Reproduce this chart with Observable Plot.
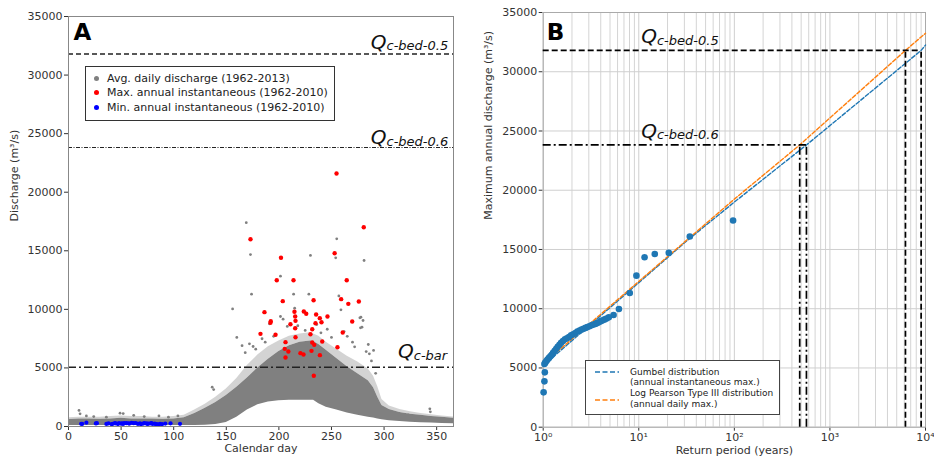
<!DOCTYPE html>
<html><head><meta charset="utf-8">
<script src="https://cdn.jsdelivr.net/npm/d3@7"></script>
<script src="https://cdn.jsdelivr.net/npm/@observablehq/plot@0.6"></script>
<style>
body{margin:0;background:#fff;font-family:"DejaVu Sans",sans-serif;}
#wrap{position:relative;width:934px;height:464px;overflow:hidden;background:#fff;}
.panel{position:absolute;top:0;}
.legend{position:absolute;border:1px solid #333;background:#fff;box-sizing:border-box;color:#222;}
.legend .row{position:absolute;white-space:nowrap;}
</style></head><body><div id="wrap"></div>
<script>
// ---------- shared ----------
const yTicks = [0, 5000, 10000, 15000, 20000, 25000, 30000, 35000];
const qNames = ["c-bed-0.5", "c-bed-0.6", "c-bar"];
const qValues = [31800, 23820, 5060];

// ---------- panel A ----------
const xTicksA = [0, 50, 100, 150, 200, 250, 300, 350];
// dense cloud of average daily discharge: envelope
const cloudDay   = [0, 10, 20, 30, 40, 50, 60, 70, 80, 90, 100, 110, 120, 130, 140, 150, 160, 170, 180, 190, 200, 210, 220, 230, 233, 238, 245, 255, 265, 275, 285, 290, 294, 298, 305, 315, 325, 335, 345, 355, 366];
const cloudLow   = [80, 80, 80, 80, 80, 80, 80, 80, 80, 80, 80, 80, 90, 110, 170, 350, 800, 1400, 1850, 2100, 2200, 2250, 2250, 2250, 2250, 1950, 1650, 1400, 1150, 950, 800, 720, 650, 580, 500, 420, 370, 330, 290, 260, 240];
const cloudHigh  = [600, 650, 650, 620, 650, 700, 650, 650, 650, 620, 650, 750, 1100, 1550, 2050, 2650, 3350, 4150, 5000, 5750, 6400, 6900, 7200, 7300, 7250, 7000, 6500, 5800, 5100, 4500, 3900, 3300, 2500, 1800, 1450, 1200, 1050, 950, 850, 780, 700];
const cloudFringe = [750, 800, 800, 800, 850, 900, 850, 850, 800, 800, 850, 950, 1400, 1900, 2500, 3200, 4100, 5200, 6100, 6800, 7300, 7700, 7900, 8000, 7900, 7700, 7200, 6600, 6000, 5500, 4900, 4300, 3400, 2300, 1750, 1450, 1250, 1100, 1000, 900, 820];
// scattered average daily discharge points
const greyDay = [10, 11, 17, 24, 36, 49, 52, 62, 72, 86, 95, 104, 136.6, 138, 169, 173, 174, 156, 201.5, 230, 255, 254, 281, 214, 228.5, 257, 215, 259, 277, 280, 201.5, 204, 208, 191, 277.6, 172, 175.5, 184, 278, 279, 290, 292, 343.5, 344, 323, 160, 165, 168, 265, 270, 285, 288, 286, 240, 225, 218, 195, 250, 178, 187, 262, 272, 283, 246, 236];
const greyQ   = [1370, 1080, 900, 850, 800, 1140, 1100, 950, 850, 900, 800, 900, 3360, 3150, 17400, 14680, 11300, 10040, 12830, 14600, 16020, 14400, 14170, 11300, 11300, 11150, 10100, 9960, 9280, 9050, 9390, 9160, 8540, 8770, 8420, 7060, 6830, 7490, 9330, 8480, 6490, 4540, 1510, 1250, 1000, 7600, 6900, 6300, 7700, 7200, 7000, 5600, 6200, 8000, 8200, 8600, 7700, 7600, 6600, 7200, 8100, 6800, 6400, 8300, 8700];
// max annual instantaneous
const redDay = [173, 254.8, 280.7, 253, 202, 198, 213.9, 264.5, 203.7, 233, 259.2, 266, 276, 186.3, 214.8, 223.7, 226, 215.5, 235.4, 246.2, 192.3, 192, 215.8, 238.9, 240.5, 269.7, 211, 234.8, 215.5, 231.7, 260.7, 182.5, 196.8, 215.8, 230, 241.2, 206.3, 231.7, 233.6, 205.6, 209, 220.5, 223.4, 231, 239, 206.3, 255.7, 233.2];
const redQ   = [15990, 21600, 17010, 14790, 14400, 12490, 12490, 12490, 10700, 10780, 10870, 10470, 10670, 9760, 9790, 9820, 9620, 9390, 9560, 9390, 8990, 8850, 9020, 9250, 8900, 8960, 8730, 8820, 8390, 8300, 8020, 7910, 7830, 7620, 7880, 7260, 7200, 7170, 6970, 6630, 6400, 6260, 6150, 6460, 6090, 5890, 6770, 4330];
// min annual instantaneous
const blueDay = [12, 13, 17, 26, 27, 36, 38, 41, 42, 44, 45, 47, 48, 50, 51, 52, 53, 55, 57, 58, 60, 62, 64, 66, 68, 69, 71, 72, 74, 75, 76, 78, 79, 80, 82, 83, 84, 86, 87, 89, 92, 97, 106];
const blueQ   = [230, 220, 330, 260, 280, 220, 260, 200, 230, 280, 260, 210, 290, 240, 270, 220, 300, 280, 270, 250, 320, 280, 300, 220, 260, 200, 250, 280, 260, 220, 240, 260, 300, 220, 240, 190, 210, 170, 230, 200, 250, 270, 230];
const legendALabels = ["Avg. daily discharge (1962-2013)", "Max. annual instantaneous (1962-2010)", "Min. annual instantaneous (1962-2010)"];
const legendAColors = ["#808080", "#ff0000", "#0000ff"];

// ---------- panel B ----------
const tMajor = [1, 10, 100, 1000, 10000];
const tMajorLabels = ["10\u2070", "10\u00b9", "10\u00b2", "10\u00b3", "10\u2074"];
const tMinor = [2, 3, 4, 5, 6, 7, 8, 9, 20, 30, 40, 50, 60, 70, 80, 90, 200, 300, 400, 500, 600, 700, 800, 900, 2000, 3000, 4000, 5000, 6000, 7000, 8000, 9000];
const obsT = [97, 34.2, 20.6, 14.7, 11.5, 9.45, 8.05, 6.2, 5.45, 4.86, 4.6, 4.4, 4.2, 4.0, 3.82, 3.64, 3.5, 3.35, 3.2, 3.05, 2.9, 2.77, 2.64, 2.52, 2.4, 2.28, 2.17, 2.06, 1.96, 1.86, 1.77, 1.69, 1.61, 1.54, 1.48, 1.42, 1.37, 1.32, 1.27, 1.23, 1.19, 1.15, 1.11, 1.08, 1.05, 1.03, 1.04, 1.03, 1.01];
const obsQ = [17440, 16090, 14710, 14620, 14340, 12790, 11330, 9980, 9470, 9270, 9180, 9100, 9020, 8950, 8850, 8770, 8710, 8660, 8600, 8520, 8450, 8380, 8300, 8240, 8150, 8070, 7950, 7850, 7750, 7600, 7500, 7420, 7280, 7120, 6950, 6780, 6620, 6450, 6280, 6120, 5980, 5850, 5720, 5580, 5450, 5330, 4630, 3870, 2940];
const gumbelT = [1, 10, 32, 100, 568, 9000, 10000];
const gumbelQ = [5200, 12200, 15750, 19000, 23820, 31800, 32250];
const lp3T = [1, 10, 100, 483, 6170, 10000];
const lp3Q = [5350, 12300, 19250, 23820, 31800, 33250];
// return periods where each fit reaches the critical discharges (Qc-bed-0.5, Qc-bed-0.6)
const critQ = [31800, 23820];
const critGumbelT = [9000, 568];
const critLp3T = [6170, 483];
const legendBLabels = [["Gumbel distribution", "(annual instantaneous max.)"], ["Log Pearson Type III distribution", "(annual daily max.)"]];
const legendBColors = ["#1f77b4", "#ff7f0e"];

// ---------- build tables ----------
const cloud = cloudDay.map((d, i) => ({day: d, low: cloudLow[i], high: cloudHigh[i], fringe: cloudFringe[i]}));
const grey = greyDay.map((d, i) => ({day: d, q: greyQ[i]}));
const red = redDay.map((d, i) => ({day: d, q: redQ[i]}));
const blue = blueDay.map((d, i) => ({day: d, q: blueQ[i]}));
const obs = obsT.map((t, i) => ({t, q: obsQ[i]}));
const gumbel = gumbelT.map((t, i) => ({t, q: gumbelQ[i]}));
const lp3 = lp3T.map((t, i) => ({t, q: lp3Q[i]}));
const crit = critQ.map((q, i) => ({q, tg: critGumbelT[i], tl: critLp3T[i]}));

const baseStyle = {fontFamily: "DejaVu Sans, sans-serif", fontSize: "11px", color: "#333", background: "transparent", overflow: "visible"};
const fmt = d => String(d);

function qLabel(value, x, anchor, lift) {
  return Plot.text([{x, y: value}], {x: "x", y: "y", text: () => "Q", textAnchor: anchor, lineAnchor: "bottom", dy: -lift, fill: "#111", fontStyle: "italic"});
}
function finishLabels(svg, names) {
  const texts = Array.from(svg.querySelectorAll("text")).filter(t => t.textContent === "Q");
  texts.forEach((t, i) => {
    const s = d3.select(t);
    s.text(null);
    s.append("tspan").attr("font-size", 20).text("Q");
    s.append("tspan").attr("font-size", 13).attr("dy", 1.5).text(names[i]);
  });
}

// ---------- Panel A ----------
const plotA = Plot.plot({
  width: 467, height: 464,
  marginLeft: 68, marginRight: 14, marginTop: 16, marginBottom: 38,
  style: baseStyle,
  x: {domain: [0, 366], ticks: xTicksA, tickFormat: fmt, tickSize: 4, tickPadding: 2, label: null},
  y: {domain: [0, 35000], ticks: yTicks, tickFormat: fmt, tickSize: 4, tickPadding: 2, label: null},
  marks: [
    Plot.areaY(cloud, {x: "day", y1: "high", y2: "fringe", fill: "#808080", fillOpacity: 0.35, curve: "linear"}),
    Plot.areaY(cloud, {x: "day", y1: "low", y2: "high", fill: "#808080", curve: "linear"}),
    Plot.dot(grey, {x: "day", y: "q", r: 1.4, fill: "#808080"}),
    Plot.dot(blue, {x: "day", y: "q", r: 2.1, fill: "#0000ff"}),
    Plot.dot(red, {x: "day", y: "q", r: 2.2, fill: "#ff0000"}),
    Plot.ruleY([qValues[0]], {stroke: "#222", strokeWidth: 1.3, strokeDasharray: "5,3"}),
    Plot.ruleY([qValues[1]], {stroke: "#222", strokeWidth: 1.1, strokeDasharray: "4,1.5,1,1.5"}),
    Plot.ruleY([qValues[2]], {stroke: "#222", strokeWidth: 1.3, strokeDasharray: "8,3,2,3"}),
    qLabel(qValues[0], 361, "end", 5),
    qLabel(qValues[1], 361, "end", 3),
    qLabel(qValues[2], 360, "end", 9),
    Plot.frame({stroke: "#888"}),
    Plot.text(["A"], {frameAnchor: "top-left", dx: 5, dy: 7, lineAnchor: "top", textAnchor: "start", fontWeight: "bold", fontSize: 23, fill: "#000"}),
    Plot.text(["Discharge (m\u00b3/s)"], {frameAnchor: "left", rotate: -90, dx: -54, fill: "#333"}),
    Plot.text(["Calendar day"], {frameAnchor: "bottom", dy: 25, fill: "#333"})
  ]
});
finishLabels(plotA, qNames);
plotA.classList.add("panel");
plotA.style.left = "0px";

// ---------- Panel B ----------
const plotB = Plot.plot({
  width: 467, height: 464,
  marginLeft: 75.7, marginRight: 9, marginTop: 12, marginBottom: 37.3,
  style: baseStyle,
  x: {type: "log", domain: [1, 10000], ticks: tMajor, tickFormat: d => tMajorLabels[tMajor.indexOf(d)], tickSize: 4, tickPadding: 2, label: null},
  y: {domain: [0, 35000], ticks: yTicks, tickFormat: fmt, tickSize: 4, tickPadding: 2, label: null},
  marks: [
    Plot.ruleX(tMinor, {stroke: "#d4d4d4", strokeWidth: 1}),
    Plot.ruleX(tMajor, {stroke: "#cfcfcf", strokeWidth: 1}),
    Plot.ruleY(yTicks, {stroke: "#cfcfcf", strokeWidth: 1}),
    Plot.frame({stroke: "#aaa"}),
    Plot.line(gumbel, {x: "t", y: "q", stroke: "#1f77b4", strokeWidth: 1.4, strokeDasharray: "4,2"}),
    Plot.line(lp3, {x: "t", y: "q", stroke: "#ff7f0e", strokeWidth: 1.4, strokeDasharray: "4,2"}),
    Plot.dot(obs, {x: "t", y: "q", r: 3.3, fill: "#1f77b4"}),
    // Qc-bed-0.5 (dashed)
    Plot.ruleY([crit[0]], {y: "q", x1: 1, x2: "tg", stroke: "#000", strokeWidth: 1.7, strokeDasharray: "6,3"}),
    Plot.ruleX([crit[0]], {x: "tg", y1: 0, y2: "q", stroke: "#000", strokeWidth: 1.7, strokeDasharray: "6,3"}),
    Plot.ruleX([crit[0]], {x: "tl", y1: 0, y2: "q", stroke: "#000", strokeWidth: 1.7, strokeDasharray: "6,3"}),
    // Qc-bed-0.6 (dash-dot)
    Plot.ruleY([crit[1]], {y: "q", x1: 1, x2: "tg", stroke: "#000", strokeWidth: 1.7, strokeDasharray: "8,3,2,3"}),
    Plot.ruleX([crit[1]], {x: "tg", y1: 0, y2: "q", stroke: "#000", strokeWidth: 1.7, strokeDasharray: "8,3,2,3"}),
    Plot.ruleX([crit[1]], {x: "tl", y1: 0, y2: "q", stroke: "#000", strokeWidth: 1.7, strokeDasharray: "8,3,2,3"}),
    qLabel(critQ[0], 10.6, "start", 7),
    qLabel(critQ[1], 10.6, "start", 7),
    Plot.text(["B"], {frameAnchor: "top-left", dx: 3.5, dy: 11, lineAnchor: "top", textAnchor: "start", fontWeight: "bold", fontSize: 23, fill: "#000"}),
    Plot.text(["Maximum annual discharge (m\u00b3/s)"], {frameAnchor: "left", rotate: -90, dx: -55, fill: "#333"}),
    Plot.text(["Return period (years)"], {frameAnchor: "bottom", dy: 27, fill: "#333"})
  ]
});
finishLabels(plotB, qNames);
plotB.classList.add("panel");
plotB.style.left = "467px";

const wrap = document.getElementById("wrap");
wrap.appendChild(plotA);
wrap.appendChild(plotB);

// ---------- legends ----------
const legA = document.createElement("div");
legA.className = "legend";
Object.assign(legA.style, {left: "85px", top: "66px", width: "250px", height: "55px", fontSize: "11px"});
legendALabels.forEach((lab, i) => {
  const row = document.createElement("div");
  row.className = "row";
  Object.assign(row.style, {left: "8px", top: (5 + i * 14.4) + "px", lineHeight: "14px"});
  row.innerHTML = `<span style="display:inline-block;width:5px;height:5px;border-radius:50%;background:${legendAColors[i]};margin-right:8px;vertical-align:1px"></span>${lab}`;
  legA.appendChild(row);
});
wrap.appendChild(legA);

const legB = document.createElement("div");
legB.className = "legend";
Object.assign(legB.style, {left: "585px", top: "360px", width: "195px", height: "55px", fontSize: "9px", borderColor: "#444"});
legendBLabels.forEach((lines, i) => {
  const sw = document.createElementNS("http://www.w3.org/2000/svg", "svg");
  sw.setAttribute("width", "26");
  sw.setAttribute("height", "4");
  Object.assign(sw.style, {position: "absolute", left: "9px", top: (8.7 + i * 28.6) + "px"});
  sw.innerHTML = `<line x1="0" y1="2" x2="24" y2="2" stroke="${legendBColors[i]}" stroke-width="1.6" stroke-dasharray="5,2.5"/>`;
  legB.appendChild(sw);
  lines.forEach((txt, j) => {
    const row = document.createElement("div");
    row.className = "row";
    Object.assign(row.style, {left: "44px", top: (5.5 + i * 21.6 + j * 10.8) + "px", lineHeight: "11px", color: "#222"});
    row.textContent = txt;
    legB.appendChild(row);
  });
});
wrap.appendChild(legB);
</script></body></html>
